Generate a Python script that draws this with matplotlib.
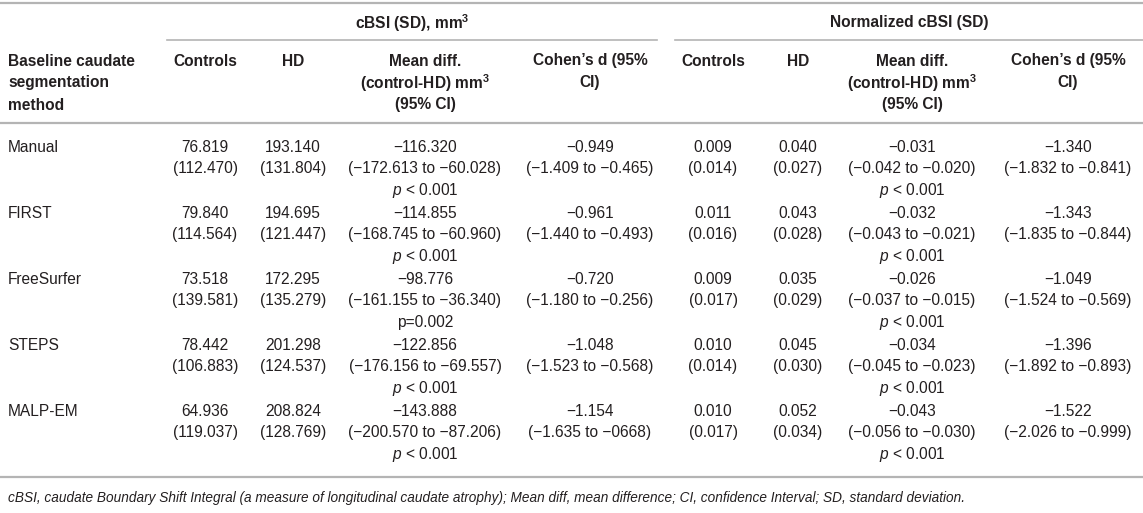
import matplotlib
matplotlib.use("Agg")
import matplotlib.pyplot as plt

plt.rcParams["font.family"] = ["Liberation Sans", "DejaVu Sans"]
plt.rcParams["mathtext.fontset"] = "custom"
plt.rcParams["mathtext.rm"] = "Liberation Sans"
plt.rcParams["mathtext.it"] = "Liberation Sans:italic"
plt.rcParams["mathtext.bf"] = "Liberation Sans:bold"

# table content
methods = ["Manual", "FIRST", "FreeSurfer", "STEPS", "MALP-EM"]

ctrl_mean = ["76.819", "79.840", "73.518", "78.442", "64.936"]
ctrl_sd = ["112.470", "114.564", "139.581", "106.883", "119.037"]
hd_mean = ["193.140", "194.695", "172.295", "201.298", "208.824"]
hd_sd = ["131.804", "121.447", "135.279", "124.537", "128.769"]
diff = ["−116.320", "−114.855", "−98.776", "−122.856", "−143.888"]
diff_lo = ["−172.613", "−168.745", "−161.155", "−176.156", "−200.570"]
diff_hi = ["−60.028", "−60.960", "−36.340", "−69.557", "−87.206"]
p_vals = ["$p$ < 0.001", "$p$ < 0.001", "p=0.002", "$p$ < 0.001", "$p$ < 0.001"]
cohen = ["−0.949", "−0.961", "−0.720", "−1.048", "−1.154"]
cohen_lo = ["−1.409", "−1.440", "−1.180", "−1.523", "−1.635"]
cohen_hi = ["−0.465", "−0.493", "−0.256", "−0.568", "−0668"]

n_ctrl_mean = ["0.009", "0.011", "0.009", "0.010", "0.010"]
n_ctrl_sd = ["0.014", "0.016", "0.017", "0.014", "0.017"]
n_hd_mean = ["0.040", "0.043", "0.035", "0.045", "0.052"]
n_hd_sd = ["0.027", "0.028", "0.029", "0.030", "0.034"]
n_diff = ["−0.031", "−0.032", "−0.026", "−0.034", "−0.043"]
n_diff_lo = ["−0.042", "−0.043", "−0.037", "−0.045", "−0.056"]
n_diff_hi = ["−0.020", "−0.021", "−0.015", "−0.023", "−0.030"]
n_p_vals = ["$p$ < 0.001"] * 5
n_cohen = ["−1.340", "−1.343", "−1.049", "−1.396", "−1.522"]
n_cohen_lo = ["−1.832", "−1.835", "−1.524", "−1.892", "−2.026"]
n_cohen_hi = ["−0.841", "−0.844", "−0.569", "−0.893", "−0.999"]

group_titles = [r"cBSI (SD), mm$^{\mathbf{3}}$", "Normalized cBSI (SD)"]
col_headers = ["Controls", "HD",
               "Mean diff.\n" + r"(control-HD) mm$^{\mathbf{3}}$" + "\n(95% CI)",
               "Cohen’s d (95%\nCI)"]
row_header = "Baseline caudate\nsegmentation\nmethod"
footnote = ("cBSI, caudate Boundary Shift Integral (a measure of longitudinal "
            "caudate atrophy); Mean diff, mean difference; CI, confidence "
            "Interval; SD, standard deviation.")

W, H = 1143, 513
FS = 11.2
TXT = "#231f20"
RULE = "#b4b4b4"

col_x = [205, 293, 425, 590, 713, 798, 912, 1068]
label_x = 8
line_h = 22
row_top = 147
row_pitch = 66


def cell(ax, x, y, lines, **kw):
    for i, s in enumerate(lines):
        ax.text(x, y + i * line_h, s, ha="center", va="center",
                fontsize=FS, color=TXT, **kw)


def main():
    fig = plt.figure(figsize=(W / 100, H / 100), dpi=100)
    ax = fig.add_axes([0, 0, 1, 1])
    ax.set_xlim(0, W)
    ax.set_ylim(H, 0)
    ax.axis("off")

    # rules
    ax.plot([0, W], [3, 3], color=RULE, lw=1.6)
    ax.plot([167, 657], [40, 40], color=RULE, lw=1.2)
    ax.plot([675, W], [40, 40], color=RULE, lw=1.2)
    ax.plot([0, W], [123, 123], color=RULE, lw=1.6)
    ax.plot([0, W], [477, 477], color=RULE, lw=1.6)

    # headers
    ax.text(412, 23, group_titles[0], ha="center", va="center",
            fontsize=FS, fontweight="bold", color=TXT)
    ax.text(909, 23, group_titles[1], ha="center", va="center",
            fontsize=FS, fontweight="bold", color=TXT)
    for i, s in enumerate(row_header.split("\n")):
        ax.text(label_x, 61 + i * line_h, s, ha="left", va="center",
                fontsize=FS, fontweight="bold", color=TXT)
    for g in range(2):
        for j, h in enumerate(col_headers):
            cell(ax, col_x[g * 4 + j], 61, h.split("\n"), fontweight="bold")

    # body
    for r, m in enumerate(methods):
        y = row_top + r * row_pitch
        ax.text(label_x, y, m, ha="left", va="center", fontsize=FS, color=TXT)
        cell(ax, col_x[0], y, [ctrl_mean[r], f"({ctrl_sd[r]})"])
        cell(ax, col_x[1], y, [hd_mean[r], f"({hd_sd[r]})"])
        cell(ax, col_x[2], y, [diff[r], f"({diff_lo[r]} to {diff_hi[r]})",
                               p_vals[r]])
        cell(ax, col_x[3], y, [cohen[r], f"({cohen_lo[r]} to {cohen_hi[r]})"])
        cell(ax, col_x[4], y, [n_ctrl_mean[r], f"({n_ctrl_sd[r]})"])
        cell(ax, col_x[5], y, [n_hd_mean[r], f"({n_hd_sd[r]})"])
        cell(ax, col_x[6], y, [n_diff[r], f"({n_diff_lo[r]} to {n_diff_hi[r]})",
                               n_p_vals[r]])
        cell(ax, col_x[7], y, [n_cohen[r],
                               f"({n_cohen_lo[r]} to {n_cohen_hi[r]})"])

    ax.text(label_x, 498, footnote, ha="left", va="center", fontsize=9.8,
            fontstyle="italic", color=TXT)

    fig.savefig("out.png", dpi=100)
    plt.close(fig)


if __name__ == "__main__":
    main()
